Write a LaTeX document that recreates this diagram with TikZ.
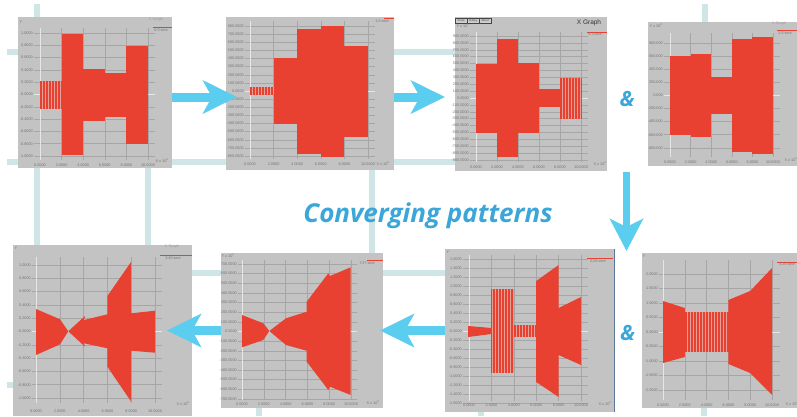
\documentclass[tikz,border=0pt]{standalone}
\usepackage{fontspec}
\setmainfont{Liberation Sans}
\newfontfamily\titlefont{Open Sans}
\usetikzlibrary{arrows.meta}
\definecolor{bgline}{HTML}{CFE5E6}
\definecolor{plotgray}{HTML}{C3C3C3}
\definecolor{gline}{HTML}{A6A6A6}
\definecolor{axisc}{HTML}{E6E6E6}
\definecolor{redc}{HTML}{E84131}
\definecolor{hatchc}{HTML}{E4A096}
\definecolor{arrowc}{HTML}{5BCDEE}
\definecolor{titlec}{HTML}{3CA6D9}
\definecolor{labc}{HTML}{757575}
\definecolor{edgec}{HTML}{5C7896}
\tikzset{
  plotbox/.style={fill=plotgray, draw=none, inner sep=0pt, outer sep=0pt},
  gridln/.style={draw=gline, line width=0.45pt},
  axisln/.style={draw=axisc, line width=0.7pt},
  tick/.style={font=\fontsize{3.8}{4}\selectfont, text=labc, inner sep=0pt},
  bigarrow/.style={draw=arrowc, line width=9pt, -{Stealth[length=34pt,width=33pt,inset=9pt]}},
  bgln/.style={draw=bgline, line width=6pt},
  leg/.style={draw=redc, line width=0.5pt},
  redshape/.style={fill=redc, draw=none},
  amp/.style={font=\titlefont\bfseries\itshape\fontsize{21}{24}\selectfont, text=titlec, inner sep=0pt},
}
% x0, dx, ytop, ybot, ylabel
\newcommand\vgrid[5]{%
  \foreach \n in {1,...,5} {\draw[gridln] ({#1+\n*#2},#3) -- ({#1+\n*#2},#4);}
  \draw[axisln] (#1,#3) -- (#1,#4);
  \foreach \lab [count=\n from 0] in {0.0000,2.0000,4.0000,6.0000,8.0000,10.0000}
    {\node[tick] at ({#1+\n*#2},#5) {\lab};}
}
% xlabel(right edge), xright, ytop, dy, labels
\newcommand\hgrid[5]{%
  \foreach \lab [count=\n from 0] in {#5} {
    \draw[gridln] (#1+1,{#3+\n*#4}) -- (#2,{#3+\n*#4});
    \node[tick, anchor=east] at (#1,{#3+\n*#4}) {\lab};
  }
}
% x1,y1,x2,y2
\newcommand\hatch[4]{%
  \fill[hatchc] (#1,#2) rectangle (#3,#4);
  \pgfmathsetmacro\hw{#3-#1}
  \foreach \xx in {0,1.5,...,\hw} {\draw[redc, line width=0.45pt] (#1+\xx,#2) -- (#1+\xx,#4);}
}
\begin{document}
\begin{tikzpicture}[x=1pt,y=-1pt]
\useasboundingbox (0,0) rectangle (797,416);
\fill[white] (0,0) rectangle (797,416);
% background grid segments
\draw[bgln] (37,4) -- (37,24);
\draw[bgln] (7,52) -- (22,52);
\draw[bgln] (7,162) -- (458,162);
\draw[bgln] (392,52) -- (458,52);
\draw[bgln] (37,164) -- (37,248);
\draw[bgln] (148,164) -- (148,248);
\draw[bgln] (372,166) -- (372,256);
\draw[bgln] (705,4) -- (705,26);
\draw[bgln] (188,273) -- (448,273);
\draw[bgln] (7,385) -- (16,385);
\draw[bgln] (259,404) -- (259,416);
\draw[bgln] (481,404) -- (481,416);
\draw[bgln] (704,404) -- (704,416);

% ---------------- Plot 1
\node[plotbox, minimum width=154, minimum height=151] (p1) at (95,92.5) {};
\hgrid{33}{155}{33}{12.3}{1.0000,0.8000,0.6000,0.4000,0.2000,-0.0000,-0.2000,-0.4000,-0.6000,-0.8000,-1.0000}
\vgrid{40}{21.6}{28}{160}{165}
\draw[axisln] (34,94.5) -- (155,94.5);
\hatch{40}{81}{61.6}{109}
\fill[redshape] (61.6,34) rectangle (83.2,155);
\fill[redshape] (83.2,69) rectangle (104.8,121);
\fill[redshape] (104.8,73) rectangle (126.4,117);
\fill[redshape] (126.4,46) rectangle (148,144);
\draw[leg] (153,27) -- (172,27);
\node[tick] (p1leg) at (161,30) {0:3 sine};
\node[tick] (p1y) at (21,22) {Y};
\node[tick] (p1x) at (162,161) {X x 10\textsuperscript{3}};
\node[tick, text=labc!70] (p1t) at (156,19.8) {X Graph};

% ---------------- Plot 2
\node[plotbox, minimum width=168, minimum height=153] (p2) at (310,93.5) {};
\hgrid{244}{375}{26}{8.125}{800.0000,700.0000,600.0000,500.0000,400.0000,300.0000,200.0000,100.0000,0.0000,-100.0000,-200.0000,-300.0000,-400.0000,-500.0000,-600.0000,-700.0000,-800.0000}
\vgrid{250}{23.6}{21}{159}{164}
\draw[axisln] (245,91) -- (375,91);
\hatch{250}{87}{273.6}{95}
\fill[redshape] (273.6,58) rectangle (297.2,124);
\fill[redshape] (297.2,29) rectangle (320.8,154);
\fill[redshape] (320.8,26) rectangle (344.4,157);
\fill[redshape] (344.4,46) rectangle (368,137);
\draw[leg] (384,18) -- (394,18);
\node[tick] (p2leg) at (382,21.5) {1:5 sine};
\node[tick] (p2x) at (383,164) {X x 10\textsuperscript{3}};

% ---------------- Plot 3
\node[plotbox, minimum width=152, minimum height=154] (p3) at (531,94) {};
\hgrid{469}{588}{36}{6.89}{900.0000,800.0000,700.0000,600.0000,500.0000,400.0000,300.0000,200.0000,100.0000,0.0000,-100.0000,-200.0000,-300.0000,-400.0000,-500.0000,-600.0000,-700.0000,-800.0000,-900.0000}
\vgrid{476}{21}{32}{162}{167}
\draw[axisln] (470,98) -- (588,98);
\fill[redshape] (476,64) rectangle (497,133);
\fill[redshape] (497,39) rectangle (518,157);
\fill[redshape] (518,63) rectangle (539,133);
\fill[redshape] (539,89) rectangle (560,107);
\hatch{560}{78}{581}{119}
\foreach \bx/\bl in {455/Close,467/Hdcpy,479/About}
  {\draw[draw=gray!55!black, line width=0.3pt, fill=plotgray!85!white] (\bx+0.5,18) rectangle (\bx+12,23.5);
   \node[font=\fontsize{2.8}{3}\selectfont, text=black!75, inner sep=0pt] (b\bl) at (\bx+6.2,20.8) {\bl};}
\node[font=\fontsize{6.5}{7}\selectfont, text=black!80, inner sep=0pt] (p3t) at (589,23) {X Graph};
\node[tick] (p3y) at (463,26) {Y x 10\textsuperscript{3}};
\draw[leg] (587,32) -- (607,32);
\node[tick] (p3leg) at (595,34.5) {5:3 sine};
\node[tick] (p3x) at (600,164) {X x 10\textsuperscript{3}};

% ---------------- Plot 4
\node[plotbox, minimum width=149, minimum height=144] (p4) at (722.5,94) {};
\hgrid{663}{780}{43}{13.1}{800.000,600.000,400.000,200.000,0.000,-200.000,-400.000,-600.000,-800.000}
\vgrid{670}{20.6}{33}{157}{162}
\draw[axisln] (664,95.4) -- (780,95.4);
\fill[redshape] (670,56) rectangle (690.6,135);
\fill[redshape] (690.6,54) rectangle (711.2,137);
\fill[redshape] (711.2,77) rectangle (731.8,114);
\fill[redshape] (731.8,39) rectangle (752.4,152);
\fill[redshape] (752.4,37) rectangle (773,154);
\node[tick] (p4y) at (656,26) {Y x 10\textsuperscript{3}};
\node[tick, text=labc!70] (p4t) at (779,23.5) {X Graph};
\draw[leg] (777,30) -- (797,30);
\node[tick] (p4leg) at (785,33) {2:5 sine};
\node[tick] (p4x) at (791,160) {X x 10\textsuperscript{3}};

% ---------------- Plot 5
\node[plotbox, minimum width=179, minimum height=171] (p5) at (102.5,330.5) {};
\hgrid{31}{162}{265}{13.3}{1.0000,0.8000,0.6000,0.4000,0.2000,-0.0000,-0.2000,-0.4000,-0.6000,-0.8000,-1.0000}
\vgrid{36}{23.8}{257}{403}{411}
\draw[axisln] (32,331.5) -- (162,331.5);
\fill[redshape] (36,309) -- (60,319.3) -- (68.3,331.3) -- (60,344.3) -- (36,355) -- cycle;
\fill[redshape] (68.3,331.3) -- (85,316) -- (84,320) -- (107.4,314.3) -- (107.4,296) -- (131.2,261.7) -- (131.2,313.3) -- (155,310.7) -- (155,352.7) -- (131.2,350.7) -- (131.2,401.7) -- (107.4,366.7) -- (107.4,348.3) -- (84,343.3) -- (85,346.7) -- cycle;
\node[tick] (p5y) at (16,248.5) {Y};
\node[tick, text=labc!70] (p5t) at (172,246.5) {X Graph};
\draw[leg] (160,255) -- (192,255);
\node[tick] (p5leg) at (173,258) {3:40 sine};
\node[tick] (p5x) at (183,404) {X x 10\textsuperscript{3}};

% ---------------- Plot 6
\node[plotbox, minimum width=162, minimum height=155] (p6) at (302,330.5) {};
\hgrid{237}{357}{264}{9.64}{700.0000,600.0000,500.0000,400.0000,300.0000,200.0000,100.0000,0.0000,-100.0000,-200.0000,-300.0000,-400.0000,-500.0000,-600.0000,-700.0000}
\vgrid{242}{21.8}{260}{400}{404}
\draw[axisln] (238,331.5) -- (357,331.5);
\fill[redshape] (242,315) -- (263.3,323.3) -- (269.3,331) -- (263.3,340) -- (242,347.3) -- cycle;
\fill[redshape] (269.3,331) -- (286,318.3) -- (306.7,311.7) -- (306.7,301.7) -- (328.3,273.3) -- (330,276) -- (350.7,267.3) -- (350.7,395) -- (330,386.7) -- (328.3,390) -- (306.7,361.7) -- (306.7,350.7) -- (286,345) -- cycle;
\node[tick] (p6y) at (228,255.5) {Y x 10\textsuperscript{3}};
\draw[leg] (367,260) -- (383,260);
\node[tick] (p6leg) at (367,263) {7:37 sine};
\node[tick] (p6x) at (373,403) {X x 10\textsuperscript{3}};

% ---------------- Plot 7
\node[plotbox, minimum width=170, minimum height=163] (p7) at (530,330.5) {};
\hgrid{462}{588}{259}{9}{1.6000,1.4000,1.2000,1.0000,0.8000,0.6000,0.4000,0.2000,-0.0000,-0.2000,-0.4000,-0.6000,-0.8000,-1.0000,-1.2000,-1.4000,-1.6000}
\vgrid{469}{22.4}{255}{401}{405}
\draw[axisln] (463,331) -- (588,331);
\fill[redshape] (468,326) -- (491.4,328) -- (491.4,334) -- (468,337) -- cycle;
\hatch{491.4}{289}{513.8}{373}
\hatch{513.8}{325}{536.2}{337}
\fill[redshape] (536.2,281) -- (558.6,265) -- (558.6,308) -- (581,297) -- (581,365) -- (558.6,355) -- (558.6,397) -- (536.2,382) -- cycle;
\draw[edgec, line width=1pt] (614.5,249) -- (614.5,412);
\node[tick] (p7y) at (448,252.5) {Y};
\draw[leg] (587,258) -- (613,258);
\node[tick] (p7leg) at (598,261) {5:26 sine};
\node[tick] (p7x) at (605,404) {X x 10\textsuperscript{3}};

% ---------------- Plot 8
\node[plotbox, minimum width=155, minimum height=155] (p8) at (719.5,330.5) {};
\hgrid{658}{780}{274}{14.5}{2.0000,1.5000,1.0000,0.5000,0.0000,-0.5000,-1.0000,-1.5000,-2.0000}
\vgrid{663}{21.8}{260}{400}{405}
\draw[axisln] (659,332) -- (780,332);
\fill[redshape] (663,301) -- (684.8,308) -- (684.8,357) -- (663,363) -- cycle;
\hatch{684.8}{312}{728.4}{352}
\fill[redshape] (728.4,300) -- (750.2,291) -- (772,268) -- (772,395) -- (750.2,373) -- (728.4,364) -- cycle;
\node[tick] (p8y) at (644,256) {Y};
\draw[leg] (777,262) -- (797,262);
\node[tick] (p8leg) at (787,264.5) {5:26 sine};
\node[tick] (p8x) at (792,404) {X x 10\textsuperscript{3}};

% ---------------- arrows, title, ampersands
\draw[bigarrow] ([yshift=-4.5pt]p1.east) -- ([xshift=11pt,yshift=-3.5pt]p2.west);
\draw[bigarrow] ([yshift=-3.5pt]p2.east) -- ([xshift=-10pt,yshift=-3pt]p3.west);
\coordinate (d1) at (626.5,172);
\coordinate (d2) at (626.5,251);
\draw[bigarrow, line width=7pt, -{Stealth[length=32pt,width=33pt,inset=8pt]}] (d1) -- (d2);
\draw[bigarrow] (p7.west) -- ([xshift=-3pt]p6.east);
\draw[bigarrow] (p6.west) -- ([xshift=-25pt]p5.east);
\node[amp] (amp1) at (627,98.5) {\&};
\node[amp] (amp2) at (627.5,332.5) {\&};
\node[font=\titlefont\bfseries\itshape\fontsize{26}{30}\selectfont, text=titlec, inner sep=0pt, anchor=base] (title) at (428,222) {Converging patterns};
\end{tikzpicture}
\end{document}
